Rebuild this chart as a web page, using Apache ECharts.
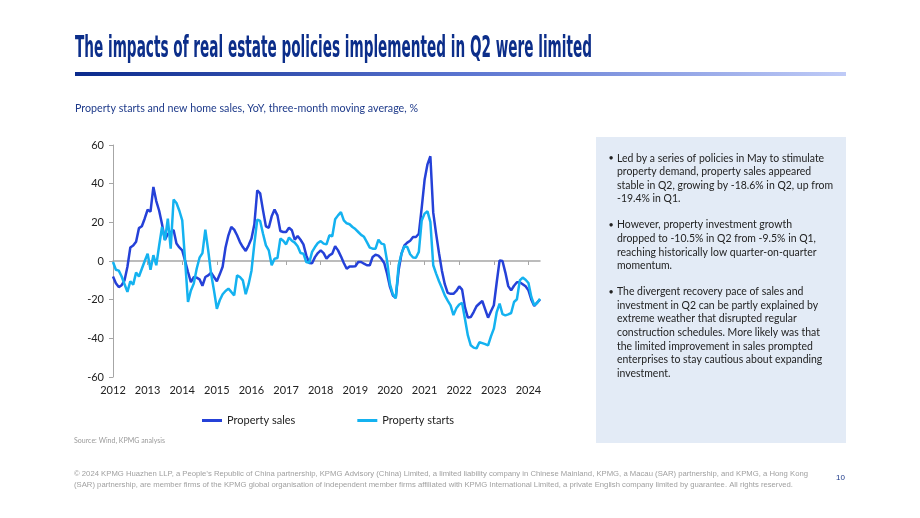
<!DOCTYPE html>
<html>
<head>
<meta charset="utf-8">
<script src="https://cdn.jsdelivr.net/npm/echarts@6/dist/echarts.min.js"></script>
<style>
  html, body { margin: 0; padding: 0; background: #fff; }
  #main { width: 920px; height: 518px; }
</style>
</head>
<body>
<div id="main"></div>
<script>
// monthly, Jan 2012 .. May 2024, 3-month moving average YoY %
var firstYear = 2012;
var salesValues = [
  -8, -11.5, -13.5, -12.5, -10, -3, 7, 8, 10, 17, 18, 22,
  26.5, 25.5, 38.3, 31, 26, 19, 11, 14, 15, 16, 9, 7,
  5.5, 0, -5.7, -10.9, -8.3, -8.6, -9.5, -12.8, -8.3, -7.4, -6, -8.3,
  -10.5, -6.9, -3, 7, 13.3, 17.6, 16.2, 13.3, 9.8, 7.2, 5.2, 8.1,
  11.6, 19, 36.6, 35, 26.2, 17.9, 17.2, 23.1, 26.6, 23.6, 15.5, 15,
  15, 17.2, 15.9, 11, 12.9, 11, 8.6, 2.9, -1, -1.2, 2, 4.1,
  5.5, 4.1, 1.2, 2.9, 3.8, 7.6, 5.5, 2.4, -1, -4, -2.8, -2.8,
  -2.7, -0.5, -0.5, -1.4, -2.2, -2.2, 2.1, 3.2, 2.8, 1.2, -1, -6.6,
  -13.4, -17.8, -19, -4.8, 3.8, 8.1, 9.5, 10.5, 12.4, 12.4, 14.1, 27.5,
  42, 50, 54.2, 25, 14, 4, -5, -12, -16.5, -17, -17, -15.5,
  -13.1, -14.8, -24, -29.3, -29, -26.4, -23.4, -22, -20.7, -25, -29.3, -26,
  -22.9, -11, 0.3, 0, -6, -13, -15.2, -12.8, -11, -11, -12, -13.1,
  -15.2, -20, -23.2, -21.5, -20
];
var startsValues = [
  -0.5, -4.5, -5, -8, -12, -16, -10.5, -12.2, -6, -8, -4, 0,
  3.8, -4.5, 3, -2.2, 8, 17.6, 10.7, 21.9, 6.4, 31.8, 30, 26,
  21, 0, -21.2, -15.2, -11.7, -4, 1.7, 4.1, 16.2, 5.5, -6.6, -15.2,
  -24.7, -20.3, -17.2, -15.5, -14.3, -16, -17.8, -7.4, -8.3, -10, -17.2, -12,
  -5, 9, 21.4, 20.7, 14.1, 8.1, 5.5, -2.2, 1.2, 1.5, 11.6, 10.5,
  8.6, 12.1, 10.5, 9.5, 7.6, 4.1, 3.8, -0.5, -1, 4.7, 7.2, 9.3,
  10.3, 9, 8.6, 13.3, 12.8, 21.6, 23.6, 25.3, 21, 19.5, 19, 17.6,
  16.5, 15, 13.5, 12.5, 9.8, 6.9, 6.4, 6.4, 11, 9, 8.6, 0,
  -12, -17.2, -19.3, -2.2, 3.8, 7.6, 7.2, 3.5, 1.8, 1.7, 4.7, 21,
  24.5, 25.7, 20.2, -2.2, -6.5, -10.5, -14, -17.8, -20.5, -23, -28, -24.5,
  -22.5, -21.7, -30, -38.5, -43.6, -44.8, -45.2, -42, -42.5, -43, -43.6, -39,
  -35, -26.4, -22, -27.5, -28.1, -27.6, -26.9, -21.2, -19.8, -10, -8.6, -9.7,
  -11.4, -18.6, -22.9, -21.7, -19.5
];
var seriesNames = ['Property sales', 'Property starts'];
var yMin = -60, yMax = 60, yStep = 20;

// month categories, e.g. "2012-01"
var months = [];
for (var i = 0; i < salesValues.length; i++) {
  var y = firstYear + Math.floor(i / 12), m = (i % 12) + 1;
  months.push(y + '-' + (m < 10 ? '0' + m : m));
}

var titleText = 'The impacts of real estate policies implemented in Q2 were limited';
var subtitleText = 'Property starts and new home sales, YoY, three-month moving average, %';
var sourceText = 'Source: Wind, KPMG analysis';
var bullets = [
  ['Led by a series of policies in May to stimulate',
   'property demand, property sales appeared',
   'stable in Q2, growing by -18.6% in Q2, up from',
   '-19.4% in Q1.'],
  ['However, property investment growth',
   'dropped to -10.5% in Q2 from -9.5% in Q1,',
   'reaching historically low quarter-on-quarter',
   'momentum.'],
  ['The divergent recovery pace of sales and',
   'investment in Q2 can be partly explained by',
   'extreme weather that disrupted regular',
   'construction schedules. More likely was that',
   'the limited improvement in sales prompted',
   'enterprises to stay cautious about expanding',
   'investment.']
];
var footerLines = [
  '\u00a9 2024 KPMG Huazhen LLP, a People\u2019s Republic of China partnership, KPMG Advisory (China) Limited, a limited liability company in Chinese Mainland, KPMG, a Macau (SAR) partnership, and KPMG, a Hong Kong',
  '(SAR) partnership, are member firms of the KPMG global organisation of independent member firms affiliated with KPMG International Limited, a private English company limited by guarantee. All rights reserved.'
];

var salesColor = '#2541D8';
var startsColor = '#14B2F0';
var navy = '#0C2E8A';
var bodyFont = 'Lato, "Open Sans", sans-serif';

// measure helper so condensed fonts can be squeezed to the reference widths
var ctx = document.createElement('canvas').getContext('2d');
function measure(font, s) { ctx.font = font; return ctx.measureText(s).width; }

var titleFont = 'bold 30px "Liberation Sans Narrow", "DejaVu Sans Condensed", sans-serif';
var titleScale = 517 / measure(titleFont, titleText);
var subFont = '11px ' + bodyFont;
var subScale = 343 / measure(subFont, subtitleText);
var boxFont = '11px ' + bodyFont;
var boxScale = 216 / measure(boxFont, bullets[0][2]);
var footFont = '7px "Liberation Sans", Arial, sans-serif';

var graphics = [];
graphics.push({
  type: 'text', x: 75, y: 34, scaleX: titleScale,
  style: { text: titleText, font: titleFont, fill: navy, verticalAlign: 'top' }
});
graphics.push({
  type: 'rect', shape: { x: 75, y: 72, width: 771, height: 4 },
  style: {
    fill: new echarts.graphic.LinearGradient(0, 0, 1, 0, [
      { offset: 0, color: '#0A2A8C' },
      { offset: 0.5, color: '#5A74D0' },
      { offset: 1, color: '#BFCBF7' }
    ])
  }
});
graphics.push({
  type: 'text', x: 75, y: 108, scaleX: subScale,
  style: { text: subtitleText, font: subFont, fill: '#1E3A8A', verticalAlign: 'middle' }
});
graphics.push({
  type: 'rect', z: -1, shape: { x: 596, y: 137, width: 250, height: 306 },
  style: { fill: '#E3EBF6' }
});
var lineY = 158;
bullets.forEach(function (para) {
  graphics.push({
    type: 'text', x: 611, y: lineY,
    style: { text: '\u2022', font: '9px ' + bodyFont, fill: '#222', align: 'center', verticalAlign: 'middle' }
  });
  para.forEach(function (ln) {
    graphics.push({
      type: 'text', x: 617, y: lineY, scaleX: boxScale,
      style: { text: ln, font: boxFont, fill: '#222', verticalAlign: 'middle' }
    });
    lineY += 13.6;
  });
  lineY += 12.4;
});
graphics.push({
  type: 'text', x: 74, y: 441,
  scaleX: 91 / measure('7px ' + bodyFont, sourceText),
  style: { text: sourceText, font: '7px ' + bodyFont, fill: '#9a9a9a', verticalAlign: 'middle' }
});
var footWidths = [734, 719];
footerLines.forEach(function (ln, k) {
  graphics.push({
    type: 'text', x: 74, y: 474 + k * 11,
    scaleX: footWidths[k] / measure(footFont, ln),
    style: { text: ln, font: footFont, fill: '#a0a0a0', verticalAlign: 'middle' }
  });
});
graphics.push({
  type: 'text', x: 836, y: 478,
  style: { text: '10', font: '8px "Liberation Sans", Arial, sans-serif', fill: '#1E3A8A', verticalAlign: 'middle' }
});

var chart = echarts.init(document.getElementById('main'));
var option = {
  animation: false,
  textStyle: { fontFamily: bodyFont },
  grid: { left: 113, top: 145, width: 427, height: 232 },
  legend: {
    data: seriesNames, left: 202, top: 415, padding: 0,
    icon: 'rect', itemWidth: 20, itemHeight: 3, itemGap: 62,
    textStyle: { fontSize: 11, color: '#222', fontFamily: bodyFont }
  },
  xAxis: [{
    type: 'category', data: months, boundaryGap: false,
    axisLine: { onZero: true, lineStyle: { color: '#a6a6a6', width: 1.5 } },
    axisTick: { show: true, interval: 11, length: 4, lineStyle: { color: '#a6a6a6' } },
    axisLabel: { show: false },
    splitLine: { show: false }
  }, {
    type: 'category', data: months, boundaryGap: false, position: 'bottom',
    axisLine: { show: false, onZero: false },
    axisTick: { show: false },
    axisLabel: {
      interval: 11, margin: 8, color: '#222', fontSize: 11,
      formatter: function (v) { return v.slice(0, 4); }
    },
    splitLine: { show: false }
  }],
  yAxis: {
    type: 'value', min: yMin, max: yMax, interval: yStep,
    axisLine: { show: true, lineStyle: { color: '#a6a6a6' } },
    axisTick: { show: true, length: 4, lineStyle: { color: '#a6a6a6' } },
    axisLabel: { color: '#222', fontSize: 11, margin: 9 },
    splitLine: { show: false }
  },
  series: [{
    name: seriesNames[0], type: 'line', data: salesValues,
    showSymbol: false, symbol: 'none',
    lineStyle: { width: 2.5, color: salesColor }, itemStyle: { color: salesColor }
  }, {
    name: seriesNames[1], type: 'line', data: startsValues,
    showSymbol: false, symbol: 'none',
    lineStyle: { width: 2.5, color: startsColor }, itemStyle: { color: startsColor }
  }],
  graphic: graphics
};
chart.setOption(option);
</script>
</body>
</html>
